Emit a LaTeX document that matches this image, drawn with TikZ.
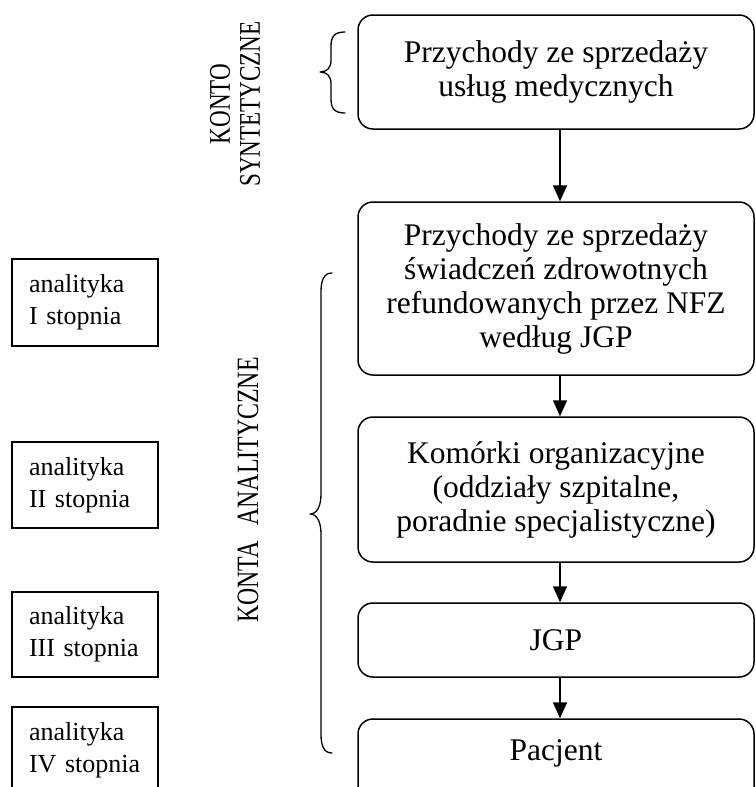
\documentclass[tikz,border=0pt]{standalone}
\usepackage{fontspec}
\setmainfont{Liberation Serif}
\newfontfamily\capsfont[FakeStretch=0.77]{Liberation Serif}
\usetikzlibrary{arrows.meta}

\begin{document}
\begin{tikzpicture}[x=1pt,y=-1pt,
  flowbox/.style={draw, line width=1.5pt, rounded corners=15pt,
    minimum width=396pt, align=center, inner sep=0pt,
    font=\fontsize{31.5}{34}\selectfont},
  levelbox/.style={draw, line width=1.5pt, minimum width=146pt,
    text width=112pt, inner xsep=17pt, inner ysep=0pt, align=left,
    font=\fontsize{26}{32}\selectfont},
  flowarrow/.style={line width=1.5pt, -{Triangle[width=14pt,length=16pt]}},
  bracket/.style={line width=1.3pt, line cap=round, line join=round},
  sidelabel/.style={rotate=90, align=center, inner sep=0pt}]

\useasboundingbox (0,0) rectangle (755,787);
\clip (0,0) rectangle (755,787);

% main chain of accounts
\node[flowbox, minimum height=114pt] (syn) at (556,72)
  {Przychody ze sprzedaży\\usług medycznych};
\node[flowbox, minimum height=173pt] (nfz) at (556,288.5)
  {Przychody ze sprzedaży\\świadczeń zdrowotnych\\refundowanych przez NFZ\\według JGP};
\node[flowbox, minimum height=145pt] (kom) at (556,489.5)
  {Komórki organizacyjne\\(oddziały szpitalne,\\poradnie specjalistyczne)};
\node[flowbox, minimum height=74pt] (jgp) at (556,640) {JGP};
\node[flowbox, minimum height=100pt, text height=41pt, text depth=59pt] (pac)
  at (556,769) {Pacjent};

\draw[flowarrow] ([xshift=4pt]syn.south) -- ([xshift=4pt]nfz.north);
\draw[flowarrow] ([xshift=4pt]nfz.south) -- ([xshift=4pt]kom.north);
\draw[flowarrow] ([xshift=4pt]kom.south) -- ([xshift=4pt]jgp.north);
\draw[flowarrow] ([xshift=4pt]jgp.south) -- ([xshift=4pt]pac.north);

% levels of analytics
\node[levelbox, minimum height=87pt] (l1) at (85,302.5) {analityka\\I stopnia};
\node[levelbox, minimum height=86pt] (l2) at (85,485) {analityka\\II stopnia};
\node[levelbox, minimum height=85pt] (l3) at (85,634.5) {analityka\\III stopnia};
\node[levelbox, minimum height=86pt] (l4) at (85,750) {analityka\\IV stopnia};

% vertical labels
\node[sidelabel, font=\capsfont\fontsize{30}{30}\selectfont] (synlabel) at (235,104)
  {KONTO\\SYNTETYCZNE};
\node[sidelabel, font=\capsfont\fontsize{31}{30}\selectfont] (anlabel) at (248,490)
  {KONTA\hspace{0.5em}ANALITYCZNE};

% braces
\draw[bracket] (345,32) .. controls (335,32) and (331,36) .. (331,46)
  -- (331,60) .. controls (331,68) and (327,72) .. (320,72)
  .. controls (327,72) and (331,76) .. (331,84)
  -- (331,99) .. controls (331,109) and (335,113) .. (345,113);
\draw[bracket] (332,273) .. controls (324,273) and (321,280) .. (321,292)
  -- (321,494) .. controls (321,506) and (317,514) .. (310,514)
  .. controls (317,514) and (321,522) .. (321,534)
  -- (321,734) .. controls (321,746) and (324,753) .. (332,753);
\end{tikzpicture}
\end{document}
